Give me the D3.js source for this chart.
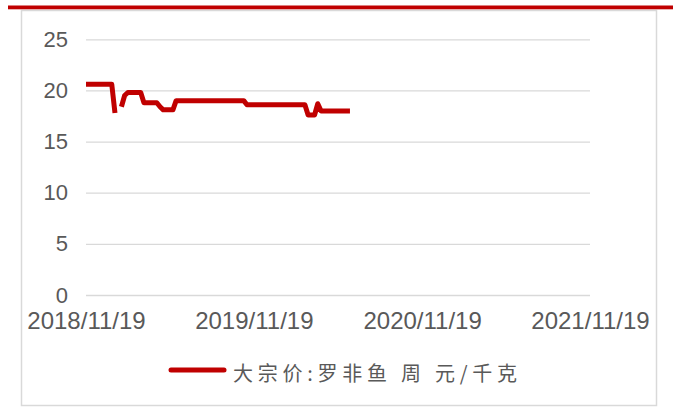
<!DOCTYPE html>
<html lang="zh">
<head>
    <meta charset="UTF-8">
    <title>罗非鱼 大宗价</title>
    <script type="text/javascript" src="https://cdn.jsdelivr.net/npm/d3@7"></script>
    <style>
        body { margin: 0; background: #fff; }
    </style>
</head>
<body>
<script type="text/javascript">
    var w = 673;
    var h = 408;

    // weekly series, first week 2018/11/19 (null = no quote that week)
    var startDate = "2018-11-19";
    var prices = [
        20.6, 20.6, 20.6, 20.6, 20.6, 20.6, 20.6, 20.6, 20.6, 17.8,
        null, 18.4, 19.5, 19.8, 19.8, 19.8, 19.8, 19.8, 18.8, 18.8,
        18.8, 18.8, 18.8, 18.4, 18.1, 18.1, 18.1, 18.1, 19.0, 19.0,
        19.0, 19.0, 19.0, 19.0, 19.0, 19.0, 19.0, 19.0, 19.0, 19.0,
        19.0, 19.0, 19.0, 19.0, 19.0, 19.0, 19.0, 19.0, 19.0, 19.0,
        18.6, 18.6, 18.6, 18.6, 18.6, 18.6, 18.6, 18.6, 18.6, 18.6,
        18.6, 18.6, 18.6, 18.6, 18.6, 18.6, 18.6, 18.6, 18.6, 17.6,
        17.6, 17.6, 18.7, 18.0, 18.0, 18.0, 18.0, 18.0, 18.0, 18.0,
        18.0, 18.0, 18.0
    ];
    var xTickLabels = ["2018/11/19", "2019/11/19", "2020/11/19", "2021/11/19"];
    var yTicks = [0, 5, 10, 15, 20, 25];
    var seriesName = "大宗价:罗非鱼 周 元/千克";

    var parse = d3.timeParse("%Y/%m/%d");
    var start = d3.timeParse("%Y-%m-%d")(startDate);
    var data = prices.map(function (v, i) {
        return { date: d3.timeDay.offset(start, i * 7), value: v };
    });
    var xTickDates = xTickLabels.map(parse);

    var x = d3.scaleTime()
        .domain([xTickDates[0], xTickDates[xTickDates.length - 1]])
        .range([86, 590]);
    var y = d3.scaleLinear()
        .domain([0, 25])
        .range([295, 39.3]);

    var svg = d3.select("body")
        .append("svg")
        .attr("width", w)
        .attr("height", h);

    // outer frame + red rule on top
    svg.append("rect")
        .attr("x", 21.5)
        .attr("y", 10.5)
        .attr("width", 635)
        .attr("height", 395)
        .attr("fill", "none")
        .attr("stroke", "#d9d9d9")
        .attr("stroke-width", 1.5);
    svg.append("rect")
        .attr("x", 8)
        .attr("y", 5.5)
        .attr("width", w - 8)
        .attr("height", 3.8)
        .attr("fill", "#c00000");

    // y axis with gridlines
    var yAxis = svg.append("g")
        .attr("transform", "translate(86,0)")
        .call(d3.axisLeft(y).tickValues(yTicks).tickSize(-504).tickPadding(18));
    yAxis.select(".domain").remove();
    yAxis.selectAll(".tick line")
        .attr("stroke", "#d9d9d9")
        .attr("stroke-width", 1.3);
    yAxis.selectAll(".tick text")
        .attr("fill", "#595959")
        .attr("font-family", "Liberation Sans, Arial, sans-serif")
        .attr("font-size", 22);

    // x axis labels
    var xAxis = svg.append("g")
        .attr("transform", "translate(0,295)")
        .call(d3.axisBottom(x).tickValues(xTickDates).tickSize(0).tickPadding(17)
            .tickFormat(d3.timeFormat("%Y/%m/%d")));
    xAxis.select(".domain").remove();
    xAxis.selectAll(".tick text")
        .attr("fill", "#595959")
        .attr("font-family", "Liberation Sans, Arial, sans-serif")
        .attr("font-size", 24);

    // price line
    var line = d3.line()
        .defined(function (d) { return d.value !== null; })
        .x(function (d) { return x(d.date); })
        .y(function (d) { return y(d.value); });
    svg.append("path")
        .datum(data)
        .attr("d", line)
        .attr("fill", "none")
        .attr("stroke", "#c00000")
        .attr("stroke-width", 5)
        .attr("stroke-linejoin", "round");

    // legend
    svg.append("line")
        .attr("x1", 171)
        .attr("x2", 224)
        .attr("y1", 370)
        .attr("y2", 370)
        .attr("stroke", "#c00000")
        .attr("stroke-width", 5)
        .attr("stroke-linecap", "round");
    svg.append("text")
        .attr("x", 233)
        .attr("y", 381)
        .attr("fill", "#595959")
        .attr("font-family", "Noto Sans CJK SC, sans-serif")
        .attr("font-size", 20)
        .attr("textLength", 284)
        .attr("lengthAdjust", "spacing")
        .text(seriesName);
</script>
</body>
</html>
